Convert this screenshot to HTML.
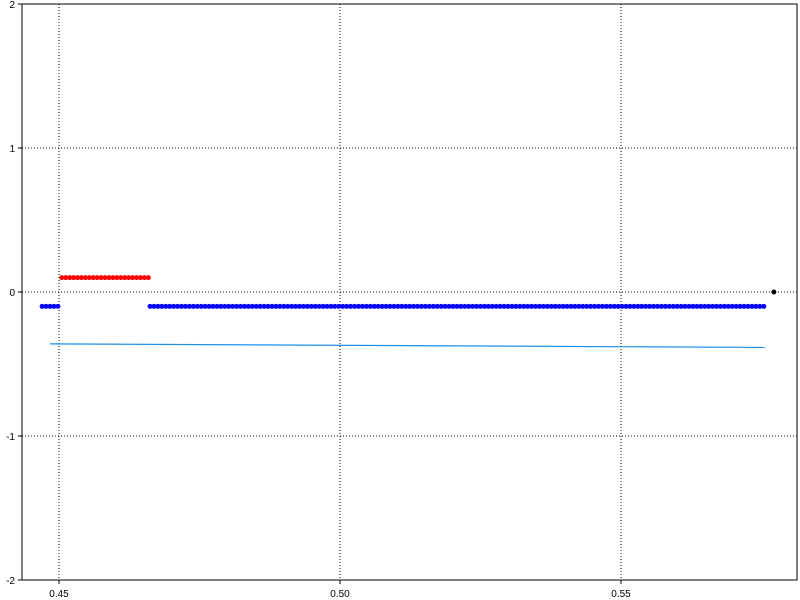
<!DOCTYPE html>
<html><head><meta charset="utf-8"><style>
body{margin:0;background:#fff;}
svg{display:block;font-family:"Liberation Sans",sans-serif;}
</style></head><body>
<svg id="chart" width="800" height="600"></svg>
<script>
const xTicks=[0.45,0.50,0.55];
const xTickLabels=["0.45","0.50","0.55"];
const yTicks=[-2,-1,0,1,2];
const yTickLabels=["-2","-1","0","1","2"];
const step=0.0007;
const blueSegments=[[0.4470,0.4500],[0.4662,0.5758]];
const blueY=-0.1;
const redSegments=[[0.4505,0.4660]];
const redY=0.1;
const blackX=[0.5772];
const blackY=[0];
const lineX=[0.4484,0.5756];
const lineY=[-0.36,-0.385];

const L=22,R=797,T=4,B=580;
const sx=v=>59+(v-0.45)/0.05*281;
const sy=v=>292-v*144;
const svg=document.getElementById('chart');
const NS='http://www.w3.org/2000/svg';
function mk(t,a,p){const e=document.createElementNS(NS,t);for(const k in a)e.setAttribute(k,a[k]);(p||svg).appendChild(e);return e;}

xTicks.forEach((v,i)=>{
  const g=mk('line',{x1:sx(v),x2:sx(v),y1:T,y2:B,stroke:'#000','stroke-width':1,'stroke-dasharray':'1,2'});
  
  
  mk('line',{x1:sx(v),x2:sx(v),y1:B,y2:B+4,stroke:'#000'});
  const t=mk('text',{x:sx(v),y:B+17,'text-anchor':'middle','font-size':10});
  t.textContent=xTickLabels[i];
  
  
});
yTicks.forEach((v,i)=>{
  if(v>-2&&v<2){
  const g=mk('line',{x1:L,x2:R,y1:sy(v),y2:sy(v),stroke:'#000','stroke-width':1,'stroke-dasharray':'1,2'});
  
  }
  mk('line',{x1:L-4,x2:L,y1:sy(v),y2:sy(v),stroke:'#000'});
  const t=mk('text',{x:L-7,y:sy(v)+4,'text-anchor':'end','font-size':10});
  t.textContent=yTickLabels[i];
  
  
});
const ln=mk('polyline',{points:lineX.map((x,i)=>sx(x)+','+sy(lineY[i])).join(' '),fill:'none',stroke:'#1f8fe8','stroke-width':1.2});


function dots(segs,y,color,name){
  segs.forEach(s=>{
    for(let x=s[0];x<=s[1]+1e-9;x+=step){
      const c=mk('circle',{cx:sx(x),cy:sy(y),r:2.5,fill:color});
      
      
    }
  });
}
dots(blueSegments,blueY,'#0000ff','blue-point');
dots(redSegments,redY,'#ff0000','red-point');
blackX.forEach((x,i)=>{
  const c=mk('circle',{cx:sx(x),cy:sy(blackY[i]),r:2.5,fill:'#000'});
  
  
});
const fr=mk('rect',{x:L,y:T,width:R-L,height:B-T,fill:'none',stroke:'#000','stroke-width':1});


</script>
</body></html>
